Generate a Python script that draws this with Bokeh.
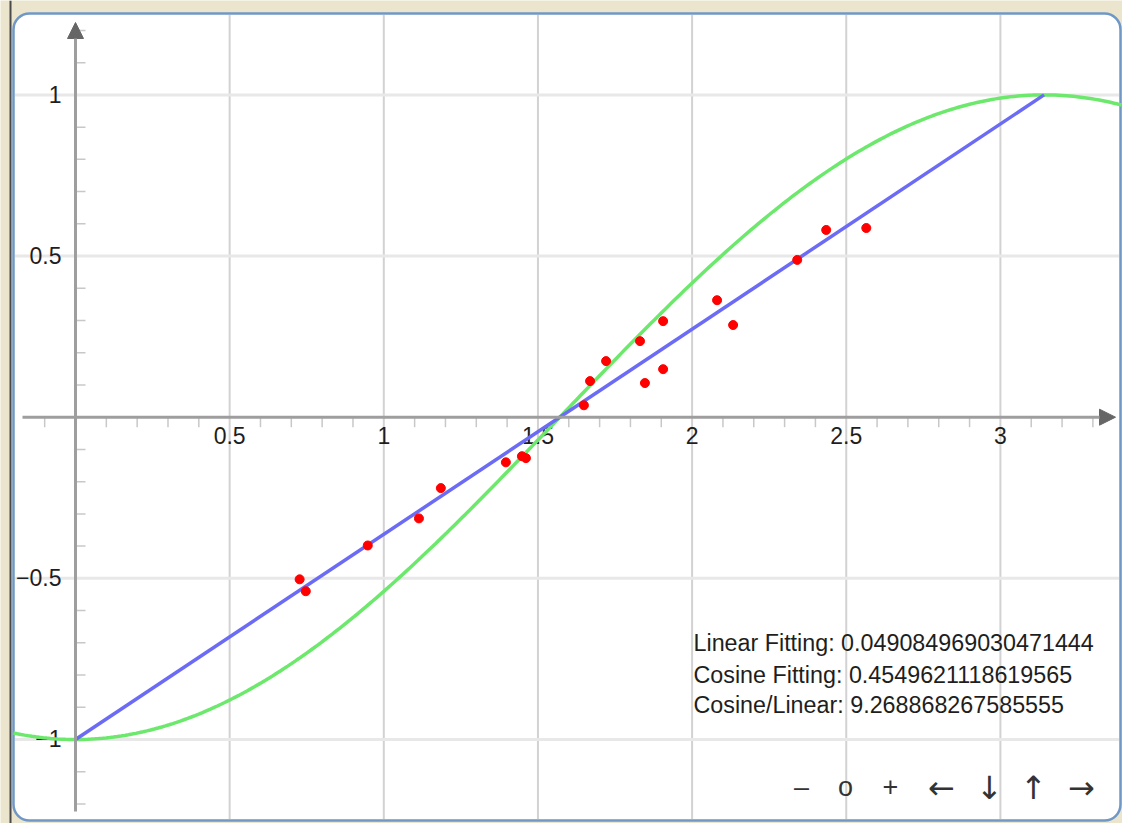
import numpy as np
from bokeh.plotting import figure
from bokeh.models import Range1d, Arrow, NormalHead, Span
from bokeh.core.properties import value
from bokeh.embed import file_html
from bokeh.resources import INLINE

# ---------------- data ----------------
pts_x = [0.727, 0.747, 0.948, 1.114, 1.185, 1.396, 1.448, 1.461, 1.649, 1.669,
         1.721, 1.831, 1.847, 1.906, 1.906, 2.081, 2.133, 2.341, 2.435, 2.565]
pts_y = [-0.503, -0.540, -0.398, -0.314, -0.220, -0.140, -0.121, -0.127, 0.037, 0.112,
         0.174, 0.236, 0.106, 0.298, 0.149, 0.363, 0.286, 0.488, 0.581, 0.587]

lin_x = [0.0, 3.141592653589793]
lin_y = [-1.0, 1.0]

x_major = [0.5, 1, 1.5, 2, 2.5, 3]
x_major_labels = ["0.5", "1", "1.5", "2", "2.5", "3"]
y_major = [-1, -0.5, 0.5, 1]
y_major_labels = ["\u22121", "\u22120.5", "0.5", "1"]

x_minor = [-0.1, 0.1, 0.2, 0.3, 0.4, 0.6, 0.7, 0.8, 0.9, 1.1, 1.2, 1.3, 1.4,
           1.6, 1.7, 1.8, 1.9, 2.1, 2.2, 2.3, 2.4, 2.6, 2.7, 2.8, 2.9, 3.1, 3.2, 3.3]
y_minor = [-1.2, -1.1, -0.9, -0.8, -0.7, -0.6, -0.4, -0.3, -0.2, -0.1,
           0.1, 0.2, 0.3, 0.4, 0.6, 0.7, 0.8, 0.9, 1.1, 1.2]

linear_fitting = 0.049084969030471444
cosine_fitting = 0.4549621118619565
cosine_linear = 9.268868267585555
stats_lines = ["Linear Fitting: " + repr(linear_fitting),
               "Cosine Fitting: " + repr(cosine_fitting),
               "Cosine/Linear: " + repr(cosine_linear)]

nav_text_labels = ["\u2013", "o", "+"]
nav_arrow_labels = ["\u2190", "\u2193", "\u2191", "\u2192"]

# ---------------- layout helpers (pixel -> data) ----------------
W, H = 1122, 823
X0, XS = 75.0, 308.3
Y0, YS = 416.7, 322.3
BASE_FIX = -9.0  # correction of the rendered baseline


def px2x(px):
    return (px - X0) / XS


def py2y(py):
    return (Y0 - py) / YS


FONT = value("Liberation Sans")

p = figure(width=W, height=H, x_range=Range1d(px2x(0), px2x(W)),
           y_range=Range1d(py2y(H), py2y(0)), min_border=0,
           x_axis_type=None, y_axis_type=None, toolbar_location=None,
           output_backend="svg", background_fill_color="#ECE5CE",
           border_fill_color="#ECE5CE", outline_line_color=None)
p.grid.visible = False

# window edge
p.add_layout(Span(location=px2x(10), dimension="height", line_color="#4A4A4A", line_width=2))

# board
bl, br, bt, bb = px2x(13), px2x(1120), py2y(13), py2y(820)
p.quad(left=[bl], right=[br], top=[bt], bottom=[bb], fill_color="white",
       line_color="#6F98C6", line_width=2.5, border_radius=16)

# grid
p.segment(x0=x_major, x1=x_major, y0=[bb + 0.005] * len(x_major), y1=[bt - 0.005] * len(x_major),
          line_color="#D2D2D2", line_width=2)
p.segment(x0=[bl + 0.005] * len(y_major), x1=[br - 0.005] * len(y_major), y0=y_major, y1=y_major,
          line_color="#E8E8E8", line_width=3)

# minor ticks
tl = 10.0
p.segment(x0=x_minor, x1=x_minor, y0=[0] * len(x_minor), y1=[-tl / YS] * len(x_minor),
          line_color="#C8C8C8", line_width=1.5)
p.segment(x0=[0] * len(y_minor), x1=[tl / XS] * len(y_minor), y0=y_minor, y1=y_minor,
          line_color="#C8C8C8", line_width=1.5)

# axes with arrow heads
p.add_layout(Arrow(x_start=px2x(22), y_start=0, x_end=px2x(1115), y_end=0,
                   line_color="#9E9E9E", line_width=3,
                   end=NormalHead(size=16, fill_color="#666666", line_color="#666666")))
p.add_layout(Arrow(x_start=0, y_start=py2y(811), x_end=0, y_end=py2y(22),
                   line_color="#9E9E9E", line_width=3,
                   end=NormalHead(size=16, fill_color="#666666", line_color="#666666")))

# tick labels
p.text(x=x_major, y=[0] * len(x_major), text=x_major_labels, text_font=FONT,
       text_font_size="23px", text_color="#1E1E1E", text_align="center",
       text_baseline="alphabetic", y_offset=27 + BASE_FIX)
p.text(x=[0] * len(y_major), y=y_major, text=y_major_labels, text_font=FONT,
       text_font_size="23px", text_color="#1E1E1E", text_align="right",
       text_baseline="alphabetic", x_offset=-14, y_offset=8.3 + BASE_FIX)

# curves
cx = np.linspace(px2x(13), px2x(1121), 300)
cy = -np.cos(cx)
p.line(cx, cy, line_color="#6CE86C", line_width=3.5)
p.line(lin_x, lin_y, line_color="#6B6BF6", line_width=3.5)

# data points
p.scatter(pts_x, pts_y, size=9, fill_color="#FF0000", line_color="#FF0000")

# stats text
sb = [651.7, 683.0, 713.5]
p.text(x=[px2x(693)] * 3, y=[py2y(b) for b in sb], text=stats_lines, text_font=FONT,
       text_font_size="23.3px", text_color="#1E1E1E", text_align="left",
       text_baseline="alphabetic", y_offset=BASE_FIX)

# navigation buttons
nav_px = [801, 845, 890]
p.text(x=[px2x(v) for v in nav_px], y=[py2y(795)] * len(nav_px), text=nav_text_labels,
       text_font=FONT, text_font_size="27px", text_color="#333333",
       text_align="center", text_baseline="alphabetic", y_offset=BASE_FIX)
arrow_px = [941, 989, 1033, 1081]
p.text(x=[px2x(v) for v in arrow_px], y=[py2y(787)] * len(arrow_px), text=nav_arrow_labels,
       text_font=value("DejaVu Sans"), text_font_size="32px", text_color="#333333",
       text_align="center", text_baseline="middle")

open("out.html", "w").write(file_html(p, INLINE))
